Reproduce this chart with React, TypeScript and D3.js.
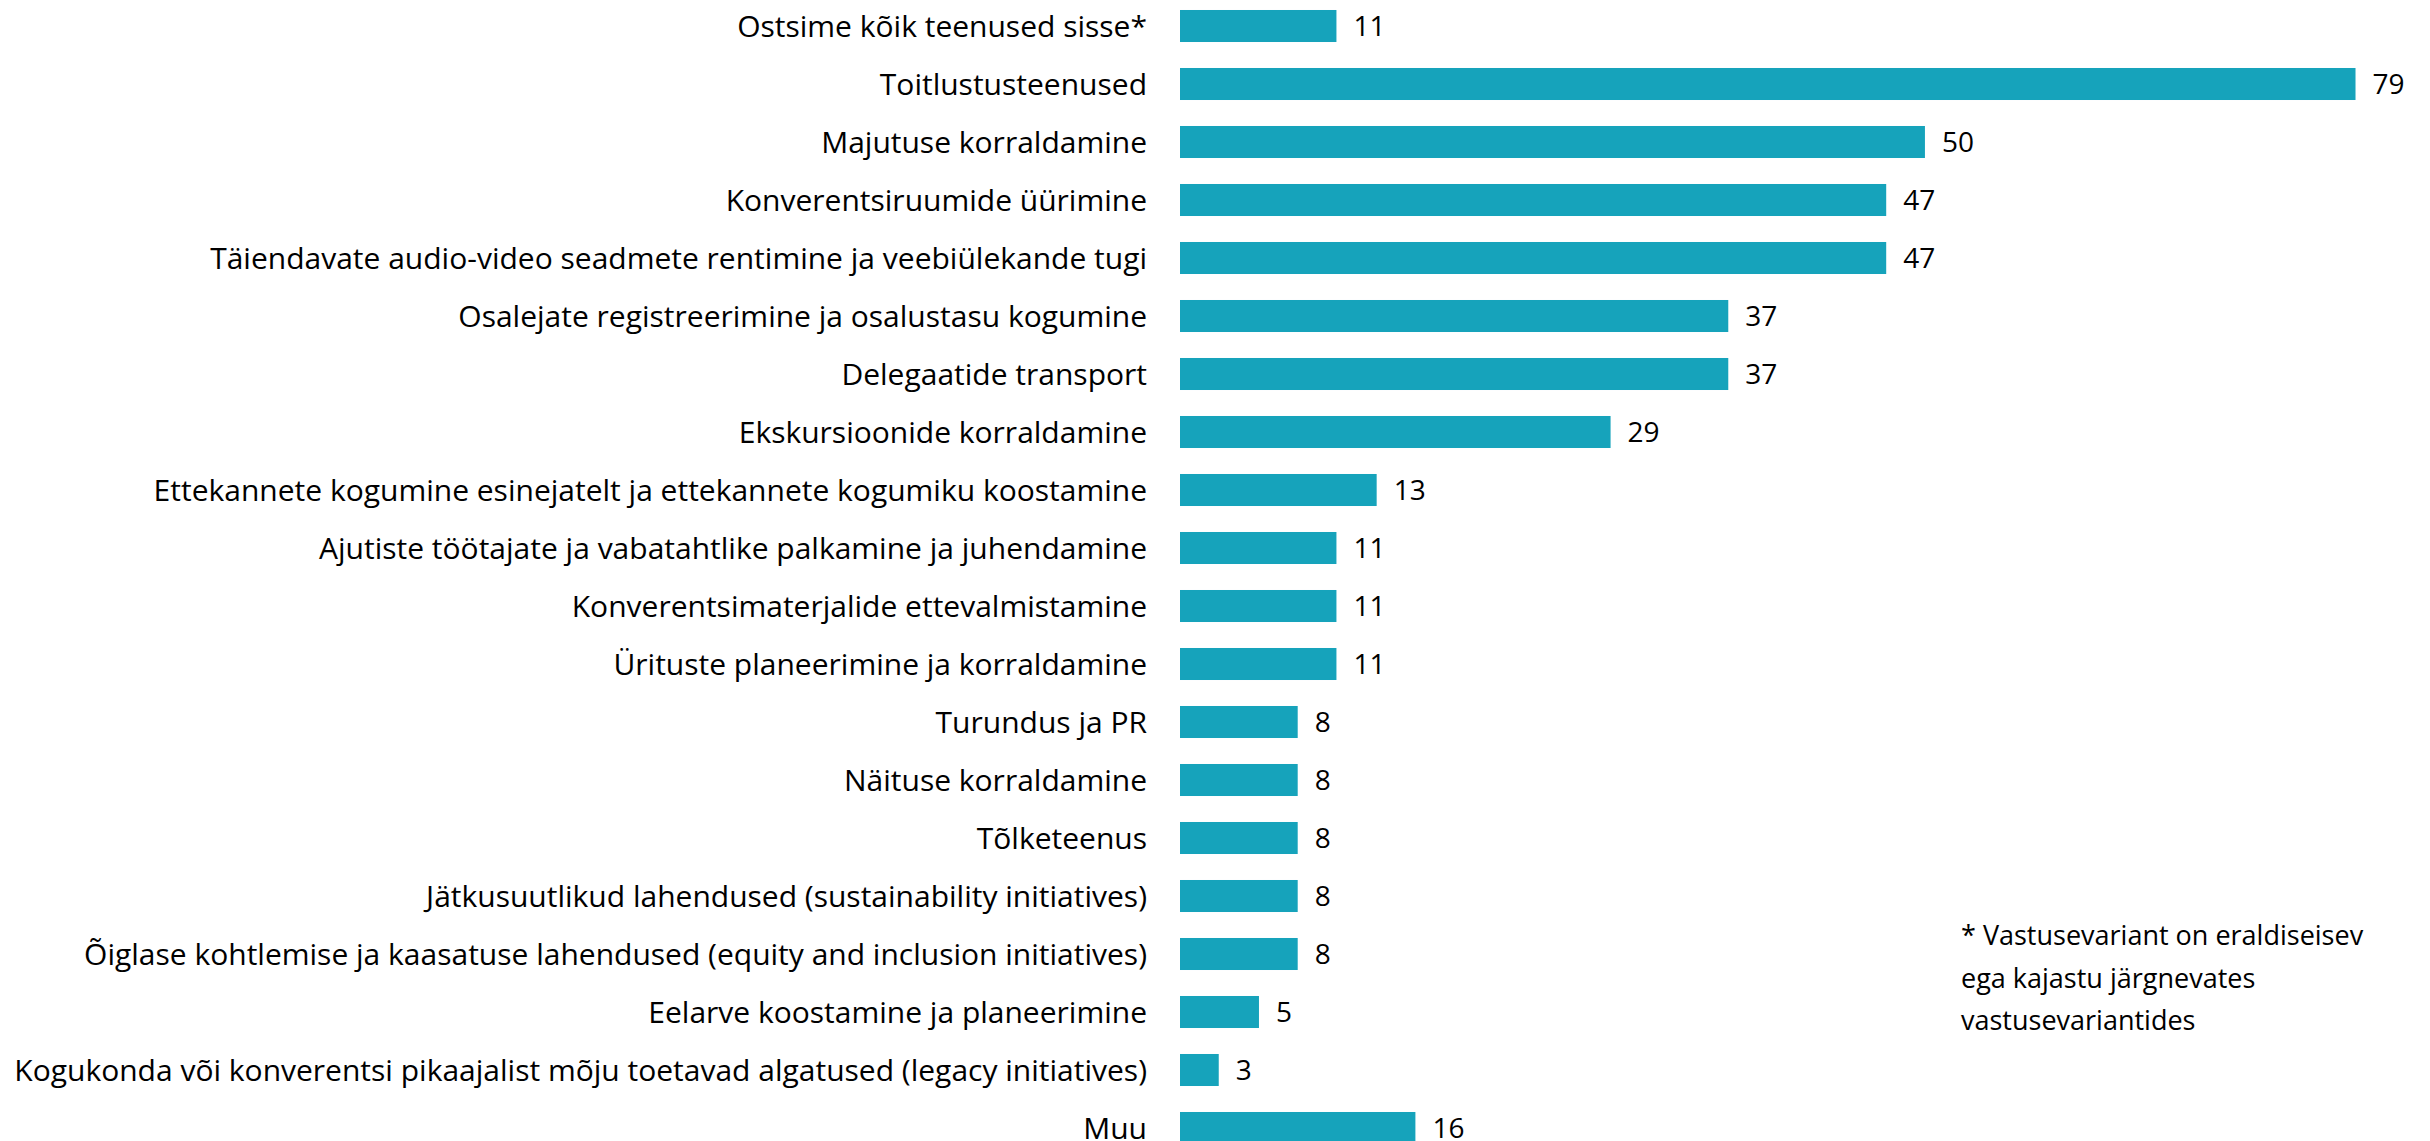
import { useEffect, useRef } from 'react'
import * as d3 from 'd3'

const categories = [
  'Ostsime kõik teenused sisse*',
  'Toitlustusteenused',
  'Majutuse korraldamine',
  'Konverentsiruumide üürimine',
  'Täiendavate audio-video seadmete rentimine ja veebiülekande tugi',
  'Osalejate registreerimine ja osalustasu kogumine',
  'Delegaatide transport',
  'Ekskursioonide korraldamine',
  'Ettekannete kogumine esinejatelt ja ettekannete kogumiku koostamine',
  'Ajutiste töötajate ja vabatahtlike palkamine ja juhendamine',
  'Konverentsimaterjalide ettevalmistamine',
  'Ürituste planeerimine ja korraldamine',
  'Turundus ja PR',
  'Näituse korraldamine',
  'Tõlketeenus',
  'Jätkusuutlikud lahendused (sustainability initiatives)',
  'Õiglase kohtlemise ja kaasatuse lahendused (equity and inclusion initiatives)',
  'Eelarve koostamine ja planeerimine',
  'Kogukonda või konverentsi pikaajalist mõju toetavad algatused (legacy initiatives)',
  'Muu',
]

const values = [
  10.5, 78.9, 50.0, 47.4, 47.4, 36.8, 36.8, 28.9, 13.2, 10.5, 10.5, 10.5, 7.9,
  7.9, 7.9, 7.9, 7.9, 5.3, 2.6, 15.8,
]

const footnote = [
  '* Vastusevariant on eraldiseisev',
  'ega kajastu järgnevates',
  'vastusevariantides',
]

const W = 2430
const H = 1141

export default function App() {
  const ref = useRef<SVGSVGElement>(null)

  useEffect(() => {
    const svg = d3.select(ref.current)
    svg.selectAll('*').remove()

    const data = categories.map((c, i) => ({ name: c, value: values[i] }))

    const x = d3.scaleLinear().domain([0, 79]).range([1180, 2357])
    const y = d3
      .scaleBand<string>()
      .domain(categories)
      .range([-3, -3 + 58 * categories.length])
      .paddingInner(0.448)
      .paddingOuter(0.224)

    const font = "'Open Sans', sans-serif"

    svg
      .selectAll('rect.bar')
      .data(data)
      .enter()
      .append('rect')
      .attr('class', 'bar')
      .attr('x', x(0))
      .attr('y', (d) => y(d.name)!)
      .attr('width', (d) => x(d.value) - x(0))
      .attr('height', y.bandwidth())
      .attr('fill', '#16a3bb')

    svg
      .selectAll('text.cat')
      .data(data)
      .enter()
      .append('text')
      .attr('class', 'cat')
      .attr('x', x(0) - 33)
      .attr('y', (d) => y(d.name)! + y.bandwidth() / 2)
      .attr('dy', '0.36em')
      .attr('text-anchor', 'end')
      .style('font-family', font)
      .style('font-size', '30px')
      .style('fill', '#000')
      .text((d) => d.name)

    svg
      .selectAll('text.val')
      .data(data)
      .enter()
      .append('text')
      .attr('class', 'val')
      .attr('x', (d) => x(d.value) + 17)
      .attr('y', (d) => y(d.name)! + y.bandwidth() / 2)
      .attr('dy', '0.36em')
      .style('font-family', font)
      .style('font-size', '28px')
      .style('fill', '#000')
      .text((d) => Math.round(d.value))

    svg
      .append('g')
      .selectAll('text')
      .data(footnote)
      .enter()
      .append('text')
      .attr('x', 1961)
      .attr('y', (_, i) => 945 + i * 42.5)
      .style('font-family', font)
      .style('font-size', '27px')
      .style('fill', '#000')
      .text((d) => d)
  }, [])

  return (
    <svg
      ref={ref}
      width={W}
      height={H}
      style={{ position: 'absolute', left: 0, top: 0, background: '#fff' }}
    />
  )
}
